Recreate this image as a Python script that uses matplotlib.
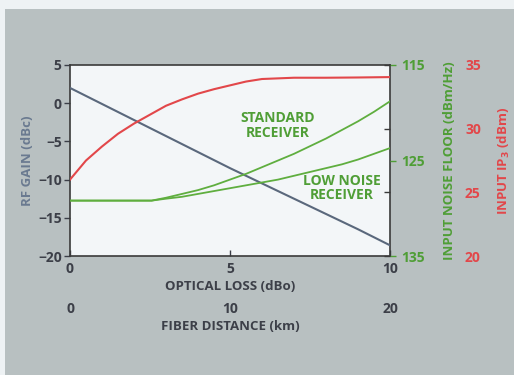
import matplotlib.pyplot as plt
from matplotlib.patches import Rectangle

plt.rcParams['font.family'] = ['Open Sans', 'DejaVu Sans']
plt.rcParams['font.weight'] = 'bold'
plt.rcParams['axes.labelweight'] = 'bold'

# RF gain (dBc) vs optical loss (dBo), left axis
gain_loss = [0, 1, 2, 3, 4, 5, 6, 7, 8, 9, 10]
rf_gain = [2.0, -0.1, -2.2, -4.3, -6.4, -8.5, -10.5, -12.5, -14.5, -16.5, -18.6]
# input IP3 (dBm), far right axis
ip3_loss = [0, 0.5, 1, 1.5, 2, 2.5, 3, 3.5, 4, 4.5, 5, 5.5, 6, 7, 8, 9, 10]
ip3 = [26.0, 27.5, 28.6, 29.6, 30.4, 31.1, 31.8, 32.3, 32.75, 33.1, 33.4, 33.7,
       33.9, 34.0, 34.0, 34.02, 34.05]
# input noise floor (dBm/Hz, shown as positive magnitudes)
nf_loss = [0, 1, 2, 2.55, 3, 3.5, 4, 4.5, 5, 5.5, 6, 6.5, 7, 7.5, 8, 8.5, 9, 9.5, 10]
nf_standard = [129.2, 129.2, 129.2, 129.2, 128.9, 128.5, 128.1, 127.6, 127.0, 126.4,
               125.7, 125.0, 124.3, 123.5, 122.7, 121.8, 120.9, 119.9, 118.8]
nf_lownoise = [129.2, 129.2, 129.2, 129.2, 129.0, 128.8, 128.5, 128.2, 127.9, 127.6,
               127.3, 127.0, 126.6, 126.2, 125.8, 125.4, 124.9, 124.3, 123.7]

loss_ticks = [0, 5, 10]
km_ticks = ['0', '10', '20']
gain_ticks = [5, 0, -5, -10, -15, -20]
gain_labels = ['5', '0', '\u22125', '\u221210', '\u221215', '\u221220']
nf_ticks = [115, 125, 135]
ip3_ticks = [35, 30, 25, 20]

c_gray = '#5a687c'
c_red = '#e2474a'
c_green = '#5fae3f'
c_text = '#3c3f48'
c_green_txt = '#4f9e36'

fig = plt.figure(figsize=(5.14, 3.75), dpi=100)
fig.patch.set_facecolor('#eef2f4')
fig.patches.append(Rectangle((5 / 514, 0), 1, (375 - 9) / 375, transform=fig.transFigure,
                             facecolor='#b8c0c1', edgecolor='none', zorder=-10))

ax = fig.add_axes([70 / 514, (375 - 256) / 375, 320 / 514, 191 / 375])
ax.set_facecolor('#f3f6f8')
ax.plot(gain_loss, rf_gain, color=c_gray, lw=1.5, zorder=3)
ax.set_xlim(0, 10)
ax.set_ylim(-20, 5)
ax.set_xticks(loss_ticks)
ax.set_yticks(gain_ticks)
ax.set_yticklabels(gain_labels)
ax.tick_params(axis='y', direction='out', length=4, width=1, colors=c_text, labelsize=10, pad=2)
ax.tick_params(axis='x', direction='in', length=4, width=1, colors=c_text, labelsize=10, pad=4)
ax.set_xlabel('OPTICAL LOSS (dBo)', color=c_text, fontsize=9.5, labelpad=3)
ax.set_ylabel('RF GAIN (dBc)', color='#6a7a90', fontsize=9.5, labelpad=3)
for s in ax.spines.values():
    s.set_color('#3a3a3a')
    s.set_linewidth(1.2)

ax.text(6.5, -2.9, 'STANDARD\nRECEIVER', color=c_green_txt, fontsize=10,
        ha='center', va='center', linespacing=1.05)
ax.text(8.5, -11.1, 'LOW NOISE\nRECEIVER', color=c_green_txt, fontsize=10,
        ha='center', va='center', linespacing=1.05)

# fiber distance axis below
sec = ax.secondary_xaxis(-0.225)
sec.set_xticks(loss_ticks)
sec.set_xticklabels(km_ticks)
sec.spines['bottom'].set_visible(False)
sec.tick_params(length=0, colors=c_text, labelsize=10, pad=2)
sec.set_xlabel('FIBER DISTANCE (km)', color=c_text, fontsize=9.5, labelpad=3)

# noise floor axis
ax2 = ax.twinx()
ax2.plot(nf_loss, nf_standard, color=c_green, lw=1.3, zorder=2)
ax2.plot(nf_loss, nf_lownoise, color=c_green, lw=1.3, zorder=2)
ax2.set_ylim(135, 115)
ax2.set_yticks(nf_ticks)
ax2.tick_params(axis='y', direction='out', length=4, width=1, colors=c_green_txt,
                labelsize=10, pad=4)
ax2.set_ylabel('INPUT NOISE FLOOR (dBm/Hz)', color=c_green_txt, fontsize=9.5, labelpad=13)
for s in ax2.spines.values():
    s.set_visible(False)

# IP3 axis
ax3 = ax.twinx()
ax3.plot(ip3_loss, ip3, color=c_red, lw=1.5, zorder=4)
ax3.set_ylim(20, 35)
ax3.set_yticks(ip3_ticks)
ax3.tick_params(axis='y', direction='in', length=4, width=1, colors=c_red,
                labelsize=10, pad=54)
ax3.tick_params(axis='y', color='#3a3a3a')
ax3.set_ylabel('INPUT IP$_3$ (dBm)', color=c_red, fontsize=9.5, labelpad=11)
for s in ax3.spines.values():
    s.set_visible(False)

fig.savefig('out.png', dpi=100, facecolor=fig.get_facecolor())
